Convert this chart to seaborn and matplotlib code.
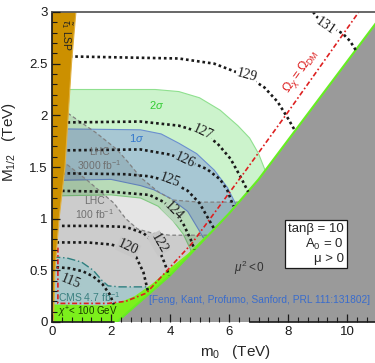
import numpy as np
import matplotlib
matplotlib.use("Agg")
import matplotlib.pyplot as plt
from matplotlib.ticker import AutoMinorLocator, FuncFormatter
import seaborn as sns

# mu^2 < 0 boundary (edge of the grey region)
bound_x = [2.2, 3.0, 4.0, 5.0, 6.0, 7.0, 8.0, 9.0, 10.0, 11.0]
bound_y = [0.0, 0.2, 0.45, 0.75, 1.05, 1.38, 1.76, 2.14, 2.52, 2.9]

# stau LSP wedge
lsp_x = [0, 0.05, 0.1, 0.24, 0.44, 0.55, 0.66, 0.81, 0]
lsp_y = [0, 0, 0.5, 1.0, 1.5, 2.0, 2.5, 3.0, 3.0]

# Higgs mass 2 sigma / 1 sigma bands
s2_up_x = [0, 3.5, 4.3, 5.0, 5.7, 6.3, 6.7, 7.0, 7.25, 7.35]
s2_up_y = [2.25, 2.25, 2.23, 2.17, 2.05, 1.9, 1.78, 1.63, 1.45, 1.3]
s2_lo_x = [0, 2.0, 3.0, 3.6, 4.1, 4.45, 4.7, 4.8]
s2_lo_y = [1.22, 1.23, 1.2, 1.12, 0.98, 0.85, 0.7, 0.55]
s1_up_x = [0, 3.0, 3.7, 4.3, 4.9, 5.5, 5.95, 6.3, 6.35]
s1_up_y = [1.87, 1.86, 1.82, 1.73, 1.63, 1.47, 1.3, 1.1, 0.95]
s1_lo_x = [0, 2.0, 3.0, 3.45, 4.0, 4.6, 5.0, 5.2, 5.25]
s1_lo_y = [1.37, 1.38, 1.32, 1.28, 1.2, 1.07, 0.88, 0.78, 0.65]

# LHC reach lines
lhc3000_x = [0, 0.54, 1.5, 2.2, 2.6, 3.0, 3.6, 4.1, 5.0, 6.35]
lhc3000_y = [2.12, 2.02, 1.83, 1.67, 1.54, 1.4, 1.26, 1.18, 1.16, 1.16]
lhc100_x = [0, 0.44, 1.2, 2.1, 2.5, 2.9, 3.4, 4.0, 5.3]
lhc100_y = [1.63, 1.54, 1.37, 1.15, 1.0, 0.9, 0.86, 0.84, 0.84]

# CMS 4.7 fb-1 exclusion
cms_x = [0, 0.5, 1.0, 1.4, 1.7, 1.9, 2.3, 3.5]
cms_y = [0.63, 0.62, 0.58, 0.5, 0.4, 0.35, 0.34, 0.34]

# chargino < 100 GeV
chi_x = [0, 1.8, 2.3, 2.8, 3.4, 4.0, 4.6, 5.2]
chi_y = [0.17, 0.16, 0.19, 0.25, 0.37, 0.52, 0.66, 0.83]

# relic density line
omega_x = [0.2, 0.2, 1.9, 2.5, 3.2, 4.74, 6.5, 7.97, 10.4]
omega_y = [0.72, 0.18, 0.18, 0.2, 0.28, 0.76, 1.44, 2.02, 3.0]

# Higgs mass contours (GeV)
higgs = {
    "115": ([0.15, 0.6, 1.05, 1.4, 1.7, 1.95, 2.1],
            [0.53, 0.52, 0.49, 0.44, 0.37, 0.27, 0.17]),
    "120": ([0.15, 1.2, 2.0, 2.5, 2.85, 3.1, 3.25],
            [0.77, 0.77, 0.75, 0.71, 0.63, 0.48, 0.3]),
    "122": ([0.15, 1.5, 2.5, 3.1, 3.5, 3.75, 3.97],
            [0.93, 0.93, 0.92, 0.86, 0.76, 0.62, 0.45]),
    "124": ([0.15, 2.0, 3.3, 3.8, 4.15, 4.45, 4.7, 4.83],
            [1.27, 1.26, 1.23, 1.16, 1.06, 0.95, 0.8, 0.7]),
    "125": ([0.15, 2.5, 3.3, 4.0, 4.6, 5.0, 5.3, 5.5],
            [1.44, 1.43, 1.41, 1.36, 1.27, 1.15, 1.0, 0.9]),
    "126": ([0.15, 3.0, 4.0, 4.6, 5.25, 5.7, 5.95, 6.15],
            [1.66, 1.67, 1.62, 1.56, 1.48, 1.38, 1.27, 1.12]),
    "127": ([0.15, 3.0, 4.3, 5.1, 5.6, 6.05, 6.4, 6.65],
            [1.93, 1.94, 1.9, 1.83, 1.73, 1.58, 1.4, 1.26]),
    "129": ([0.6, 4.3, 5.5, 6.6, 7.2, 7.65, 8.0, 8.24],
            [2.57, 2.55, 2.5, 2.38, 2.27, 2.13, 1.97, 1.85]),
    "131": ([8.85, 9.05, 9.5, 9.86, 10.1, 10.3],
            [3.0, 2.93, 2.85, 2.79, 2.72, 2.63]),
}
# label position, rotation, background colour behind the label
higgs_labels = {
    "115": (0.62, 0.39, -22, None),
    "120": (2.58, 0.72, -25, "#c7c7c7"),
    "122": (3.62, 0.76, -60, "#c7c7c7"),
    "124": (4.12, 1.07, -45, "#b9d6bb"),
    "125": (4.0, 1.37, -20, "#a7c7d3"),
    "126": (4.5, 1.57, -25, "#a7c7d3"),
    "127": (5.1, 1.84, -25, "#ccf3cc"),
    "129": (6.6, 2.39, -15, "white"),
    "131": (9.27, 2.86, -35, "white"),
}

sns.set_theme(style="ticks")
plt.rcParams["font.family"] = ["Liberation Sans", "DejaVu Sans"]
plt.rcParams["mathtext.fontset"] = "custom"
plt.rcParams["mathtext.rm"] = "Liberation Sans"
plt.rcParams["mathtext.it"] = "Liberation Sans:italic"
plt.rcParams["axes.axisbelow"] = False

fig = plt.figure(figsize=(3.75, 3.63), dpi=100)
ax = fig.add_axes([52 / 375, 41 / 363, 324.5 / 375, 310 / 363])
ax.set_facecolor("white")

# bands (edges kept under the later grey fill)
ax.fill(s2_up_x + s2_lo_x[::-1], s2_up_y + s2_lo_y[::-1], color="#ccf3cc", lw=0)
ax.plot(s2_up_x, s2_up_y, color="#8fe08f", lw=0.8, zorder=1)
ax.plot(s2_lo_x, s2_lo_y, color="#8fe08f", lw=0.8, zorder=1)
ax.fill(s1_up_x + s1_lo_x[::-1], s1_up_y + s1_lo_y[::-1], color="#a7c7d3", lw=0)
ax.plot(s1_up_x, s1_up_y, color="#6b8fcf", lw=0.8, zorder=1)
ax.plot(s1_lo_x, s1_lo_y, color="#6b8fcf", lw=0.8, zorder=1)

# LHC reach overlays
ax.fill(lhc3000_x + [6.35, 0], lhc3000_y + [0, 0], color="k", alpha=0.11, lw=0)
ax.plot(lhc3000_x, lhc3000_y, color="#808080", ls=(0, (3, 2)), lw=0.9, zorder=1)
ax.fill(lhc100_x + [5.3, 0], lhc100_y + [0, 0], color="k", alpha=0.12, lw=0)
ax.plot(lhc100_x, lhc100_y, color="#808080", ls=(0, (3, 2)), lw=0.9, zorder=1)

# CMS exclusion
ax.fill(cms_x + [3.5, 0], cms_y + [0, 0], color="#a9c8cb", lw=0)
ax.plot(cms_x, cms_y, color="#2f7f7f", ls=(0, (6, 2, 1, 2)), lw=1.0, zorder=1)

# chargino region
ax.fill(chi_x + [5.2, 0], chi_y + [0, 0], color="#7cf01c", lw=0)

# mu^2 < 0 region
ax.fill(bound_x + [11, 2.2], bound_y + [0, 0], color="#9a9a9a", lw=0)
ax.plot(bound_x, bound_y, color="#66ee22", lw=1.5, zorder=1)

# Higgs contours
for name, (hx, hy) in higgs.items():
    sns.lineplot(x=hx, y=hy, sort=False, estimator=None, ax=ax, color="k",
                 lw=1.9, linestyle=(0, (1, 1.1)))
for name, (lx, ly, rot, bg) in higgs_labels.items():
    kw = {}
    if bg is not None:
        kw["bbox"] = dict(boxstyle="square,pad=0.05", fc=bg, ec="none")
    ax.text(lx, ly, name, rotation=rot, ha="center", va="center",
            fontsize=10, family="Liberation Serif", color="k", **kw)

# relic density line
ax.plot(omega_x, omega_y, color="#dd2020", lw=1.2, ls=(0, (3, 1.5, 1, 1.5)))
ax.text(8.45, 2.42, r"$\Omega_\chi = \Omega_{\rm DM}$", color="#dd2020",
        rotation=54, ha="center", va="center", fontsize=9)

# stau LSP on top of the contour ends
ax.fill(lsp_x, lsp_y, color="#cc9000", ec="#e0b040", lw=0.8, zorder=2.2)
ax.text(0.5, 2.78, r"$\tilde{\tau}_1$ LSP", rotation=-90, ha="center",
        va="center", fontsize=7.5, color="#222222", zorder=2.3)

# region labels
ax.text(3.55, 2.1, r"2$\sigma$", color="#33cc33", fontsize=8, ha="center", va="center")
ax.text(2.87, 1.78, r"1$\sigma$", color="#3377cc", fontsize=8, ha="center", va="center")
ax.text(1.6, 1.57, "LHC\n3000 fb$^{-1}$", color="#707070", fontsize=7.5,
        ha="center", va="center", linespacing=1.1)
ax.text(1.45, 1.1, "LHC\n100 fb$^{-1}$", color="#707070", fontsize=7.5,
        ha="center", va="center", linespacing=1.1)
ax.text(0.2, 0.24, "CMS 4.7 fb$^{-1}$", color="#3a8080", fontsize=7.5,
        ha="left", va="center")
ax.text(1.2, 0.09, r"$\chi^{+}$< 100 GeV", color="#1a3a00", fontsize=7,
        ha="center", va="center")
ax.text(6.7, 0.52, r"$\mu^2 < 0$", color="#333333", fontsize=8.5,
        ha="center", va="center")
ax.text(3.3, 0.21, "[Feng, Kant, Profumo, Sanford, PRL 111:131802]",
        color="#3a6ccc", fontsize=7.3, ha="left", va="center")
ax.text(8.95, 0.755, "tanβ = 10\nA$_0$ = 0\nμ > 0", fontsize=9.5,
        ha="center", va="center", multialignment="right", linespacing=1.15,
        bbox=dict(boxstyle="square,pad=0.25", fc="white", ec="k", lw=0.9))

# axes
ax.set_xlim(0, 11)
ax.set_ylim(0, 3)
ax.set_xticks([0, 2, 4, 6, 8, 10])
ax.set_yticks([0, 0.5, 1, 1.5, 2, 2.5, 3])
ax.xaxis.set_minor_locator(AutoMinorLocator(6))
ax.yaxis.set_minor_locator(AutoMinorLocator(5))
fmt = FuncFormatter(lambda v, p: f"{v:g}")
ax.xaxis.set_major_formatter(fmt)
ax.yaxis.set_major_formatter(fmt)
ax.tick_params(which="both", direction="in", colors="k", labelsize=9.5,
               top=False, right=False)
ax.tick_params(which="major", length=6, width=0.9, pad=3)
ax.tick_params(which="minor", length=3.5, width=0.8)

ax.spines["right"].set_visible(False)
ax.spines["top"].set_color("#555555")
ax.spines["left"].set_color("k")
ax.spines["bottom"].set_visible(False)
ax.plot([0, 2.1], [0, 0], color="k", lw=1.2, clip_on=False, zorder=3)
ax.plot([6.7, 11], [0, 0], color="k", lw=1.2, clip_on=False, zorder=3)

ax.set_xlabel(r"m$_0$   (TeV)", fontsize=11)
ax.set_ylabel(r"M$_{1/2}$   (TeV)", fontsize=11)
ax.xaxis.set_label_coords(0.567, -0.068)
ax.yaxis.set_label_coords(-0.105, 0.58)

fig.savefig("out.png", dpi=100)
